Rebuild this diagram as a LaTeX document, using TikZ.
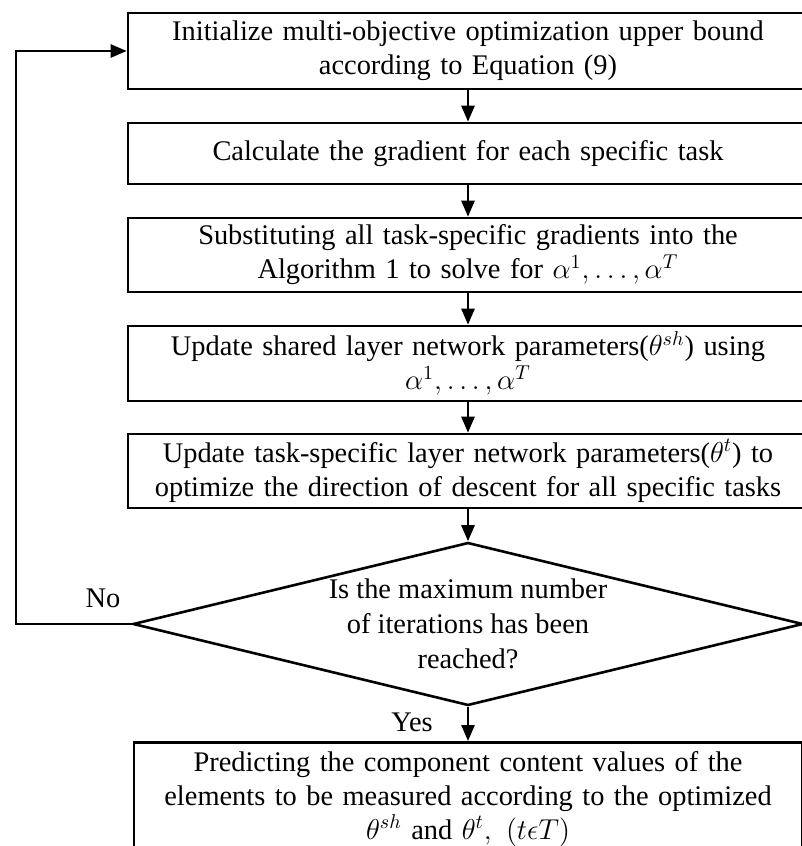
\documentclass[tikz,border=0pt]{standalone}
\usepackage{amsmath,amssymb}
\usepackage{fontspec}
\setmainfont{Liberation Serif}
\usetikzlibrary{shapes,arrows.meta,positioning,calc}

\begin{document}
\begin{tikzpicture}[x=0.5pt,y=-0.5pt,
    font=\fontsize{14.2}{17}\selectfont,
    stepbox/.style={draw, line width=1.3pt, rectangle, minimum width=340pt, text width=334pt, align=center, inner sep=0pt},
    decision/.style={draw, line width=1.3pt, diamond, aspect=4.1, inner sep=0pt, minimum width=335pt, minimum height=81.5pt, align=center, font=\fontsize{14.2}{17.5}\selectfont},
    flow/.style={line width=1.3pt, -{Triangle[length=8pt,width=6.5pt]}}]
\useasboundingbox (0,0) rectangle (802,846);

% process steps
\node[stepbox, minimum height=38pt] (init) at (468,51) {Initialize multi-objective optimization upper bound\\according to Equation (9)};
\node[stepbox, minimum height=30.5pt] (grad) at (468,153.5) {Calculate the gradient for each specific task};
\node[stepbox, minimum height=37pt] (solve) at (468,255) {Substituting all task-specific gradients into the\\Algorithm 1 to solve for $\alpha^{1},\ldots,\alpha^{T}$};
\node[stepbox, minimum height=37.5pt] (shared) at (468,363.5) {Update shared layer network parameters($\theta^{sh}$) using\\$\alpha^{1},\ldots,\alpha^{T}$};
\node[stepbox, minimum height=37pt] (specific) at (468,471) {Update task-specific layer network parameters($\theta^{t}$) to\\optimize the direction of descent for all specific tasks};

% stop test
\node[decision] (check) at (468,624) {Is the maximum number\\of iterations has been\\reached?};

% result
\node[stepbox, anchor=north, minimum width=334pt, inner ysep=4.5pt, text depth=60pt] (predict) at (468,741) {Predicting the component content values of the\\elements to be measured according to the optimized\\$\theta^{sh}$ and $\theta^{t},\ (t\epsilon T)$};

% labels
\node (nolabel) at (103,598) {No};
\node (yeslabel) at (412,722) {Yes};

% connectors
\coordinate (loop) at (16,624);
\draw[flow] (init) -- (grad);
\draw[flow] (grad) -- (solve);
\draw[flow] (solve) -- (shared);
\draw[flow] (shared) -- (specific);
\draw[flow] (specific) -- (check);
\draw[flow] (check) -- (predict);
\draw[flow] (check.west) -- (loop) |- (init.west);
\end{tikzpicture}
\end{document}
